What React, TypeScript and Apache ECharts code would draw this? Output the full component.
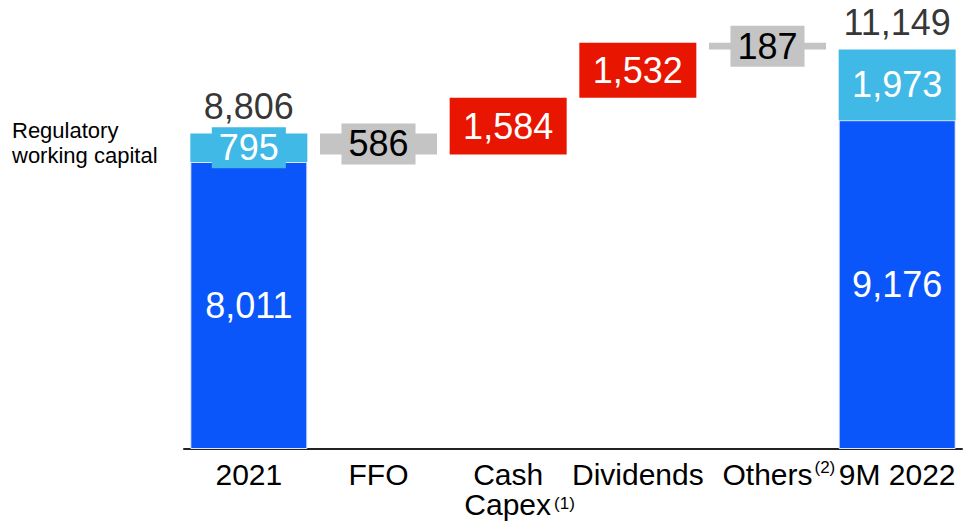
import React, { useEffect, useRef } from 'react';
import * as echarts from 'echarts';

const categories = ['2021', 'FFO', 'Cash\nCapex', 'Dividends', 'Others', '9M 2022'];
const footnotes = ['', '', '(1)', '', '(2)', ''];
// [net debt excl. RWC, regulatory working capital]
const startValues = [8011, 795];
const endValues = [9176, 1973];
// FFO, Cash Capex, Dividends, Others
const changes = [-586, 1584, 1532, -187];
const sideNoteLines = ['Regulatory', 'working capital'];

const DARK = '#0a56fa';
const LIGHT = '#41b9e6';
const RED = '#e81600';
const GRAY = '#c4c4c4';
const FONT = '"Liberation Sans", Arial, Helvetica, sans-serif';

const fmt = (v: number) => Math.abs(v).toLocaleString('en-US');

export default function App() {
  const ref = useRef<HTMLDivElement>(null);
  useEffect(() => {
    if (!ref.current) return;
    const chart = echarts.init(ref.current, undefined, { renderer: 'svg' });
    const n = categories.length;
    const baseData: any[] = Array(n).fill('-');
    const darkData: any[] = Array(n).fill('-');
    const lightData: any[] = Array(n).fill('-');
    const changeData: any[] = Array(n).fill('-');
    const totalData: any[] = Array(n).fill('-');
    darkData[0] = startValues[0];
    lightData[0] = startValues[1];
    darkData[n - 1] = endValues[0];
    lightData[n - 1] = endValues[1];
    let running = startValues[0] + startValues[1];
    totalData[0] = running;
    const numFont = { fontFamily: FONT, fontSize: 36, lineHeight: 35 };
    changes.forEach((c, i) => {
      const idx = i + 1;
      const up = c > 0;
      baseData[idx] = up ? running : running + c;
      running += c;
      changeData[idx] = {
        value: Math.abs(c),
        itemStyle: { color: up ? RED : GRAY },
        label: up
          ? { color: '#fff' }
          : { color: '#000', backgroundColor: GRAY, padding: [3, 7] },
      };
    });
    totalData[n - 1] = endValues[0] + endValues[1];

    const barCommon = { type: 'bar', stack: 'w', barWidth: 117 };

    chart.setOption({
      animation: false,
      grid: { left: 184, right: 1, top: 19, bottom: 79 },
      xAxis: {
        type: 'category',
        data: categories,
        axisLine: { lineStyle: { color: '#222', width: 2 } },
        axisTick: { show: false },
        axisLabel: {
          interval: 0,
          margin: 10,
          color: '#000',
          fontFamily: FONT,
          fontSize: 30,
          lineHeight: 30,
          formatter: (v: string, i: number) => {
            const lines = v.split('\n');
            const fn = footnotes[i];
            if (fn) {
              const last = lines.length - 1;
              const tag = last > 0 ? 't' : 's';
              lines[last] = `{h|${fn}}${lines[last]}{${tag}|${fn}}`;
            }
            return lines.join('\n');
          },
          rich: {
            h: { fontFamily: FONT, fontSize: 17, color: 'rgba(0,0,0,0)', padding: [0, 0, 0, 2] },
            s: { fontFamily: FONT, fontSize: 17, color: '#000', verticalAlign: 'top', padding: [0, 0, 0, 2] },
            t: { fontFamily: FONT, fontSize: 17, color: '#000', verticalAlign: 'top', padding: [6, 0, 0, 3] },
          },
        },
      },
      yAxis: { type: 'value', min: 0, max: 12000, show: false, splitLine: { show: false } },
      graphic: sideNoteLines.map((t, i) => ({
        type: 'text',
        left: 12,
        top: 119 + i * 25,
        style: { text: t, fontFamily: FONT, fontSize: 22, fill: '#000' },
      })),
      series: [
        {
          ...barCommon,
          name: 'base',
          data: baseData,
          itemStyle: { color: 'rgba(0,0,0,0)' },
          silent: true,
        },
        {
          ...barCommon,
          name: 'Net debt',
          data: darkData,
          itemStyle: { color: DARK, borderColor: '#dfe7fb', borderWidth: 1 },
          label: { show: true, position: 'inside', color: '#fff', ...numFont, formatter: (p: any) => fmt(p.value) },
        },
        {
          ...barCommon,
          name: 'Regulatory working capital',
          data: lightData,
          itemStyle: { color: LIGHT },
          label: {
            show: true,
            position: 'inside',
            color: '#fff',
            backgroundColor: LIGHT,
            padding: [3, 7],
            ...numFont,
            formatter: (p: any) => fmt(p.value),
          },
        },
        {
          ...barCommon,
          name: 'Change',
          data: changeData,
          label: { show: true, position: 'inside', ...numFont, formatter: (p: any) => fmt(p.value) },
        },
        {
          type: 'scatter',
          name: 'Total',
          data: totalData,
          symbolSize: 0,
          itemStyle: { color: 'rgba(0,0,0,0)' },
          z: 5,
          label: {
            show: true,
            position: 'top',
            distance: 9,
            color: '#000',
            ...numFont,
            formatter: (p: any) => fmt(p.value),
          },
        },
      ],
    });
    return () => chart.dispose();
  }, []);
  return (
    <div
      ref={ref}
      style={{ position: 'fixed', left: 0, top: 0, width: 963, height: 528, background: '#fff' }}
    />
  );
}
